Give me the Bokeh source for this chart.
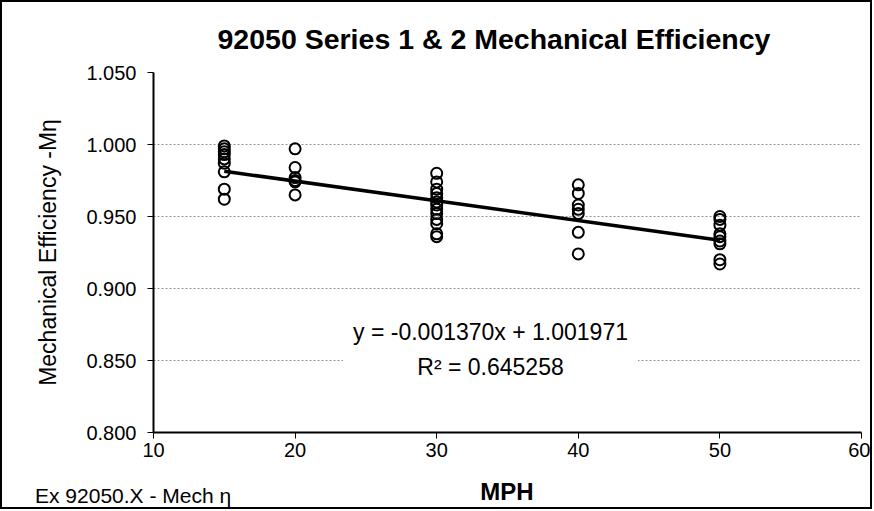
from bokeh.plotting import figure
from bokeh.layouts import column
from bokeh.models import Label, Range1d, FixedTicker, NumeralTickFormatter, ColumnDataSource, Div
from bokeh.embed import file_html
from bokeh.resources import INLINE

title = "92050 Series 1 & 2 Mechanical Efficiency"
x_label = "MPH"
y_label = "Mechanical Efficiency -M\u03b7"
footnote = "Ex 92050.X - Mech \u03b7"

mph_15 = [0.999, 0.997, 0.995, 0.993, 0.990, 0.987, 0.981, 0.969, 0.962]
mph_20 = [0.997, 0.984, 0.977, 0.975, 0.974, 0.965]
mph_30 = [0.980, 0.974, 0.969, 0.966, 0.963, 0.960, 0.958, 0.955, 0.952, 0.948, 0.945, 0.938, 0.936]
mph_40 = [0.972, 0.966, 0.958, 0.955, 0.952, 0.939, 0.924]
mph_50 = [0.950, 0.948, 0.944, 0.938, 0.936, 0.933, 0.931, 0.920, 0.917]
speeds = [15, 20, 30, 40, 50]

slope = -0.001370
intercept = 1.001971
r_squared = 0.645258
fit_x = [15, 50]

x_ticks = [10, 20, 30, 40, 50, 60]
y_ticks = [0.80, 0.85, 0.90, 0.95, 1.00, 1.05]

FONT = "Liberation Sans"

xs, ys = [], []
for s, vals in zip(speeds, [mph_15, mph_20, mph_30, mph_40, mph_50]):
    xs += [s] * len(vals)
    ys += vals
src = ColumnDataSource(dict(x=xs, y=ys))

p = figure(width=868, height=470, output_backend="svg", toolbar_location=None,
           x_range=Range1d(10, 60), y_range=Range1d(0.8, 1.05),
           min_border_left=151, min_border_right=9, min_border_top=70, min_border_bottom=40)
p.title.text = title
p.title.align = "left"
p.title.text_font = FONT
p.title.text_font_size = "28.5px"
p.title.text_font_style = "bold"
p.title.text_color = "black"
p.title.offset = 64
p.title.standoff = 36
p.outline_line_color = None

p.xaxis.ticker = FixedTicker(ticks=x_ticks)
p.yaxis.ticker = FixedTicker(ticks=y_ticks)
p.yaxis.formatter = NumeralTickFormatter(format="0.000")
for ax in (p.xaxis[0], p.yaxis[0]):
    ax.axis_line_color = "black"
    ax.axis_line_width = 2
    ax.major_tick_line_color = "black"
    ax.major_tick_line_width = 1
    ax.major_tick_in = 0
    ax.major_tick_out = 6
    ax.minor_tick_line_color = None
    ax.major_label_text_font = FONT
    ax.major_label_text_font_size = "20px"
    ax.major_label_text_color = "black"
    ax.axis_label_text_font = FONT
    ax.axis_label_text_color = "black"
p.xaxis.major_label_standoff = 4
p.yaxis.axis_label = y_label
p.yaxis.axis_label_text_font_size = "23px"
p.yaxis.axis_label_text_font_style = "normal"
p.yaxis.major_label_standoff = 11
p.yaxis.axis_label_standoff = 22

p.xgrid.grid_line_color = None
p.ygrid.grid_line_color = "#909090"
p.ygrid.grid_line_dash = "2 2"
p.ygrid.grid_line_width = 1

fit_y = [slope * v + intercept for v in fit_x]
p.line(fit_x, fit_y, line_color="black", line_width=3.5)
p.scatter("x", "y", source=src, marker="circle", size=11, fill_alpha=0,
          line_color="black", line_width=2)

eq = Label(x=33.8, y=0.8576, x_units="data", y_units="data",
           text=f"y = {slope:.6f}x + {intercept:.6f}\nR\u00b2 = {r_squared:.6f}",
           text_align="center", text_baseline="middle", text_font=FONT,
           text_font_size="23px", text_color="black", text_line_height=1.35,
           background_fill_color="white", padding=10)
p.add_layout(eq)

# bottom row: footnote and x-axis title side by side
foot_html = (
    f'<div style="position:relative;width:868px;height:35px;font-family:\'{FONT}\';color:black;">'
    f'<span style="position:absolute;left:33px;top:13px;font-size:21px;line-height:1;white-space:nowrap;">{footnote}</span>'
    f'<span style="position:absolute;left:505px;top:8px;transform:translateX(-50%);font-size:24px;'
    f'font-weight:bold;line-height:1;white-space:nowrap;">{x_label}</span>'
    '</div>'
)
bottom = Div(text=foot_html, width=868, height=35, styles={"margin": "0", "padding": "0"})

page = column(p, bottom, spacing=0, styles={"border": "2px solid black"})

open("out.html", "w").write(file_html(page, INLINE))
